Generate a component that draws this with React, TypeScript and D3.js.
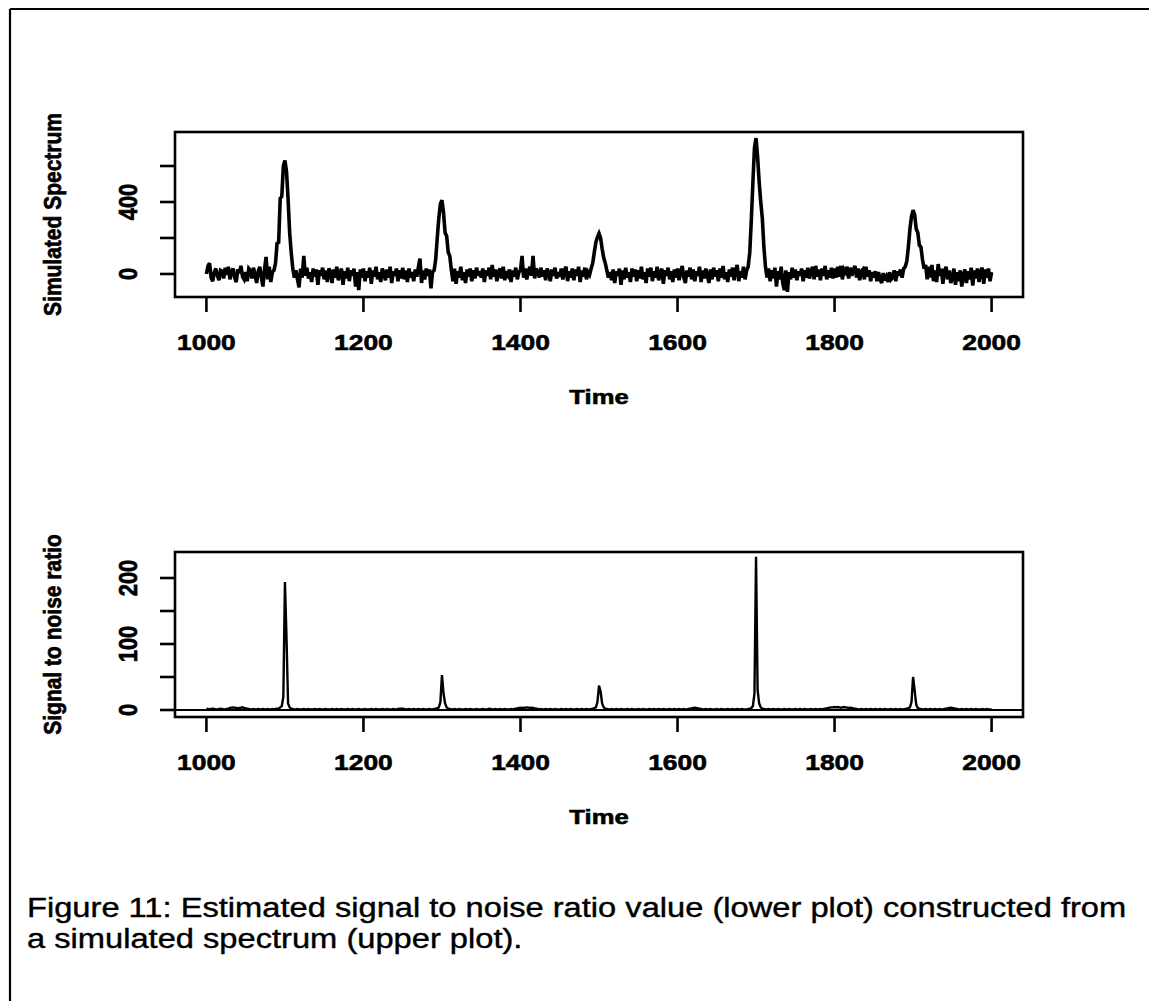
import React from 'react';
import * as d3 from 'd3';

// ---------- data ----------
const TIME_START = 1000;
const TIME_STEP = 2;

// Simulated spectrum, one value every 2 time units from 1000 to 2000 (25 per row)
const SPECTRUM: number[] = [
  0, 45, 60, -20, -40, 10, 30, -10, -35, 20, 15, -25, 35, -5, 40, -30, 10, 30, -20, -45, 25, 5, 45, -15, -30,
  10, -40, 30, 20, -25, 35, -10, -50, 15, 40, -20, -70, 25, 95, -30, 40, -45, 10, 20, 60, 170, 175, 420, 430, 600,
  630, 570, 420, 230, 120, 30, -20, 20, -30, -75, 30, -20, 100, -10, 35, -25, 10, -45, 30, -15, 25, -60, 20, -10, 35,
  -30, 20, -45, 30, 10, -50, 25, -20, 40, -35, 5, 30, -60, 15, -25, 35, -40, 20, -10, 30, -70, 10, -90, 25, -20,
  30, -40, 15, -20, 35, -55, 20, -15, 40, -30, 10, -45, 30, 5, -35, 25, -20, 40, -50, 15, -10, 30, -40, 20, -25,
  35, -30, 20, -45, 30, -20, 10, -40, 25, -15, 40, 85, -50, 20, -30, 30, -10, 25, -80, 10, 20, 80, 200, 310, 390,
  410, 340, 230, 210, 120, 100, 20, -40, 30, -55, 15, -20, 40, -35, 10, -50, 25, -15, 30, -40, 20, -25, 35, -10, 15,
  -20, 30, -45, 20, -10, 35, -30, 50, -15, 25, -40, 10, 30, -25, 40, -35, 15, -5, 25, -45, 20, -15, 35, -30, 10,
  20, 100, -20, 30, -30, 15, 40, -10, 100, -25, 30, 10, -20, 35, -15, 20, -35, 30, 5, -40, 25, -10, 35, -25, 10,
  -15, 30, -30, 20, 40, -40, 15, -20, 30, -35, 25, -10, 40, -45, 20, -15, 35, -30, 10, -5, 30, 60, 120, 175, 205,
  225, 200, 140, 90, 60, 20, -20, 10, -35, 25, -50, 15, -10, 30, -60, 20, -30, 35, -20, 10, -45, 30, -15, 25, -40,
  20, -25, 40, -30, 10, -50, 30, -15, 35, -40, 15, -20, 40, -35, 5, 30, -55, 20, -10, 35, -30, 15, -45, 25, -20,
  30, -35, 10, 45, -20, -50, 20, -15, 35, -30, 25, -40, 15, -10, 40, -45, 20, -25, 30, -5, -50, 25, -30, 35, -15,
  20, -40, 30, -20, 45, -30, 10, -45, 25, -15, 35, -35, 20, 50, -40, 15, -20, 40, -30, 20, 40, 120, 300, 510, 700,
  755, 650, 510, 400, 310, 150, 40, -20, 30, -40, 20, -25, 35, -70, 15, -30, 40, -50, -90, 20, -100, 10, -30, 35, -20,
  25, -35, 15, -10, 30, -40, 20, -20, 35, -25, 10, 40, -30, 45, -15, 25, -35, 30, -10, 45, -30, 20, -20, 35, -25,
  30, -20, 40, -15, 45, -30, 25, 10, 40, -25, 35, -10, 20, 45, -20, 30, -35, 15, 25, -30, 40, -15, 20, -40, 10,
  -20, 15, -40, 10, -30, -50, 5, -35, -15, -45, 10, -30, -20, 20, -40, 15, -10, 25, -20, 30, 40, 70, 150, 250, 320,
  355, 330, 250, 230, 160, 150, 80, 30, 50, -30, 40, -20, 50, -40, 20, -45, 55, -10, 30, -55, 15, 40, -30, 20, -50,
  -20, 30, -60, 10, -40, 20, -70, -10, 25, -50, 15, -30, 35, -65, 20, -25, 30, -45, 10, 35, -55, 25, -20, 30, -40,
  10,
];

// Estimated signal to noise ratio, same time grid
const SNR: number[] = [
  2, 1.5, 1, 1.5, 2, 1.5, 1, 1, 1.5, 2, 1.5, 1, 1, 1.5, 2, 3, 3.5, 4, 3.5, 3, 2.5, 3, 3.5, 4, 3,
  2.5, 2, 1.5, 1, 1, 1.5, 1, 1, 1.5, 1, 1, 1.5, 1, 1, 1.5, 1, 1, 1.5, 1, 1.5, 2, 2, 4, 6, 20,
  194, 110, 10, 4, 2, 1.5, 1, 1, 1.5, 1, 1, 1, 1.5, 1, 1, 1.5, 1, 1, 1, 1.5, 1, 1, 1.5, 1, 1,
  1, 1.5, 1, 1, 1, 1.5, 1, 1, 1.5, 1, 1, 1.5, 1, 1, 1, 1.5, 1, 1, 1.5, 1, 1, 1, 1.5, 1, 1,
  1, 1.5, 1, 1, 1, 1.5, 1, 1, 1.5, 1, 1, 1, 1.5, 1, 1, 1.5, 1, 1, 1, 1.5, 1, 1, 1.5, 2, 2,
  2, 1.5, 1, 1, 1.5, 1, 1, 1.5, 1, 1, 1.5, 1, 1, 1.5, 1, 1, 1, 1.5, 1, 1, 1.5, 2, 3, 4, 12,
  53, 25, 10, 4, 2, 1.5, 1, 1, 1.5, 1, 1, 1.5, 1, 1, 1, 1.5, 1, 1, 1.5, 1, 1, 1, 1.5, 1, 1,
  1, 1.5, 1, 1, 1, 2, 1.5, 1, 1, 1.5, 1, 1, 1.5, 1, 1, 1.5, 1, 1, 1, 1.5, 1, 1.5, 2, 2.5, 3,
  3, 3.5, 3, 3.5, 4, 3.5, 3, 3.5, 3, 2.5, 2, 1.5, 1, 1.5, 1, 1, 1.5, 1, 1, 1.5, 1, 1, 1.5, 1, 1,
  1, 1.5, 1, 1, 1.5, 1, 1, 1.5, 1, 1, 1, 1.5, 1, 1, 1.5, 1, 1, 1.5, 1, 1, 1.5, 2, 3, 4, 12,
  37, 28, 10, 4, 2, 1.5, 1, 1, 1.5, 1, 1, 1.5, 1, 1, 1.5, 1, 1, 1, 1.5, 1, 1, 1.5, 1, 1, 1,
  1.5, 1, 1, 1.5, 1, 1, 1, 1.5, 1, 1, 1.5, 1, 1, 1.5, 1, 1, 1.5, 1, 1, 1, 1.5, 1, 1, 1.5, 1,
  1, 1.5, 1, 1, 1.5, 1, 1, 1.5, 2, 2.5, 3, 3.5, 3, 2.5, 2, 1.5, 1, 1, 1.5, 1, 1, 1.5, 1, 1, 1,
  1.5, 1, 1, 1.5, 1, 1, 1, 1.5, 1, 1, 1.5, 1, 1, 1.5, 1, 1, 1.5, 1, 1, 1, 1.5, 2, 3, 6, 25,
  232, 30, 10, 4, 2, 1.5, 1, 1, 1.5, 1, 1, 1.5, 1, 1, 1.5, 1, 1, 1, 1.5, 1, 1, 1.5, 1, 1, 1,
  1.5, 1, 1, 1.5, 1, 1, 1.5, 1, 1, 1, 1.5, 1, 1, 1.5, 1, 1, 1.5, 1, 1.5, 2, 2.5, 3, 3.5, 4, 4,
  4.5, 4, 4.5, 4, 3.5, 4, 4.5, 4, 3.5, 3, 3.5, 3, 2.5, 2, 1.5, 1, 1, 1.5, 1, 1, 1.5, 1, 1, 1.5, 1,
  1, 1.5, 1, 1, 1.5, 1, 1, 1.5, 1, 1, 1, 1.5, 1, 1, 1.5, 1, 1, 1.5, 1, 1, 1.5, 2, 3, 4, 12,
  50, 30, 8, 3, 2, 1.5, 1, 1, 1.5, 1, 1, 1.5, 1, 1, 1.5, 1, 1, 1.5, 1, 1, 1.5, 2, 2.5, 3, 3.5,
  3, 2.5, 2, 1.5, 1, 1, 1.5, 1, 1, 1.5, 1, 1, 1.5, 1, 1, 1.5, 1, 1, 1, 1.5, 1, 1, 1.5, 1, 1,
  1,
];

const X_DOMAIN = [960, 2040];
const X_TICKS = [1000, 1200, 1400, 1600, 1800, 2000];
const SPEC_Y_DOMAIN = [-128, 789];
const SPEC_Y_TICKS = [0, 200, 400, 600];
const SPEC_Y_LABELED = [0, 400];
const SNR_Y_DOMAIN = [-10.6, 239.4];
const SNR_Y_TICKS = [0, 50, 100, 150, 200];
const SNR_Y_LABELED = [0, 100, 200];
const X_TITLE = 'Time';
const SPEC_Y_TITLE = 'Simulated Spectrum';
const SNR_Y_TITLE = 'Signal to noise ratio';
const CAPTION_LINES = [
  'Figure 11: Estimated signal to noise ratio value (lower plot) constructed from',
  'a simulated spectrum (upper plot).',
];

// ---------- layout ----------
const W = 1149;
const H = 1001;
const FONT = '"Liberation Sans", Arial, Helvetica, sans-serif';
const PLOT_LEFT = 175;
const PLOT_RIGHT = 1023;
const TICK_LEN = 15;

type PanelProps = {
  top: number;
  bottom: number;
  values: number[];
  yDomain: number[];
  yTicks: number[];
  yLabeled: number[];
  yTitle: string;
  lineWidth: number;
  zeroLine?: boolean;
};

function Panel({ top, bottom, values, yDomain, yTicks, yLabeled, yTitle, lineWidth, zeroLine }: PanelProps) {
  const x = d3.scaleLinear().domain(X_DOMAIN).range([PLOT_LEFT, PLOT_RIGHT]);
  const y = d3.scaleLinear().domain(yDomain).range([bottom, top]);
  const line = d3
    .line<number>()
    .x((_, i) => x(TIME_START + i * TIME_STEP))
    .y((d) => y(d));
  const midY = (top + bottom) / 2;
  const midX = (PLOT_LEFT + PLOT_RIGHT) / 2;
  return (
    <g fontFamily={FONT} fontWeight="bold" fill="#000" stroke="#000" strokeWidth={0}>
      {zeroLine && (
        <line x1={PLOT_LEFT} x2={PLOT_RIGHT} y1={y(0)} y2={y(0)} stroke="#000" strokeWidth={2.2} />
      )}
      <path d={line(values) || ''} fill="none" stroke="#000" strokeWidth={lineWidth} strokeLinejoin="miter" strokeMiterlimit={3} />
      <rect x={PLOT_LEFT} y={top} width={PLOT_RIGHT - PLOT_LEFT} height={bottom - top} fill="none" stroke="#000" strokeWidth={2.6} />
      {X_TICKS.map((t) => (
        <g key={'xt' + t}>
          <line x1={x(t)} x2={x(t)} y1={bottom} y2={bottom + TICK_LEN} stroke="#000" strokeWidth={2.6} />
          <text transform={`translate(${x(t)},${bottom + 53}) scale(1.2,1)`} textAnchor="middle" fontSize={22} strokeWidth={0.6}>
            {t}
          </text>
        </g>
      ))}
      {yTicks.map((t) => (
        <line key={'yt' + t} x1={PLOT_LEFT} x2={PLOT_LEFT - TICK_LEN} y1={y(t)} y2={y(t)} stroke="#000" strokeWidth={2.6} />
      ))}
      {yLabeled.map((t) => (
        <text key={'yl' + t} transform={`translate(137,${y(t)}) scale(1.2,1) rotate(-90)`} textAnchor="middle" fontSize={22} strokeWidth={0.6}>
          {t}
        </text>
      ))}
      <text transform={`translate(${midX},${bottom + 107}) scale(1.22,1)`} textAnchor="middle" fontSize={21} strokeWidth={0.6}>
        {X_TITLE}
      </text>
      <text transform={`translate(61,${midY}) scale(1.15,1) rotate(-90)`} textAnchor="middle" fontSize={21} strokeWidth={0.6}>
        {yTitle}
      </text>
    </g>
  );
}

export default function App() {
  return (
    <svg
      width={W}
      height={H}
      viewBox={`0 0 ${W} ${H}`}
      style={{ position: 'absolute', left: 0, top: 0, background: '#fff' }}
    >
      <rect x={0} y={0} width={W} height={H} fill="#fff" />
      <line x1={10} x2={W} y1={9} y2={9} stroke="#000" strokeWidth={2.2} />
      <line x1={10} x2={10} y1={9} y2={H} stroke="#000" strokeWidth={2.2} />
      <Panel
        top={132}
        bottom={297}
        values={SPECTRUM}
        yDomain={SPEC_Y_DOMAIN}
        yTicks={SPEC_Y_TICKS}
        yLabeled={SPEC_Y_LABELED}
        yTitle={SPEC_Y_TITLE}
        lineWidth={3.6}
      />
      <Panel
        top={552}
        bottom={717}
        values={SNR}
        yDomain={SNR_Y_DOMAIN}
        yTicks={SNR_Y_TICKS}
        yLabeled={SNR_Y_LABELED}
        yTitle={SNR_Y_TITLE}
        lineWidth={2.4}
        zeroLine
      />
      {CAPTION_LINES.map((s, i) => (
        <text
          key={i}
          transform={`translate(27,${917 + i * 31}) scale(1.21,1)`}
          fontFamily={FONT}
          fontSize={27}
          fill="#000"
          stroke="#000"
          strokeWidth={0.4}
        >
          {s}
        </text>
      ))}
    </svg>
  );
}
